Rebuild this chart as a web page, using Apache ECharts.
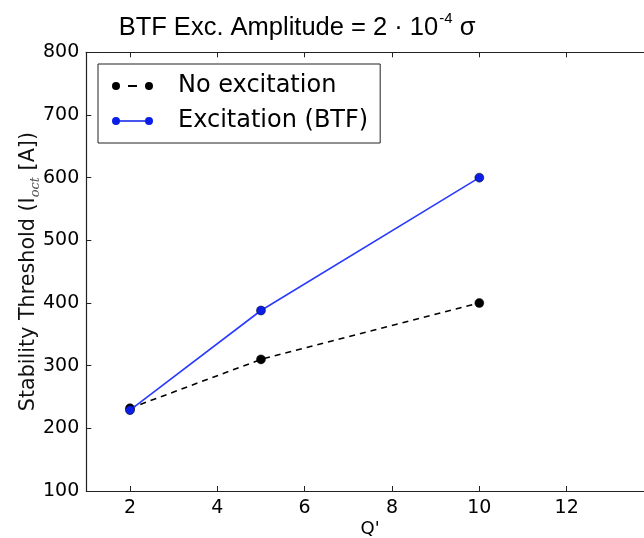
<!DOCTYPE html>
<html>
<head>
<meta charset="utf-8">
<script src="https://cdn.jsdelivr.net/npm/echarts@6/dist/echarts.min.js"></script>
<style>
  html, body { margin: 0; padding: 0; background: #fff; }
  #chart { width: 644px; height: 538px; }
</style>
</head>
<body>
<div id="chart"></div>
<script>
// Q' values and thresholds
const qPrime = [2, 5, 10]
const noExcitation = [232, 310, 400]
const excitationBTF = [229, 388, 600]
const seriesNames = ['No excitation', 'Excitation (BTF)']

const font = 'DejaVu Sans'
const frameColor = '#222'

// legend icons: marker - line - marker, like matplotlib
const dashedIcon = 'path://M0,4A4,4 0 1,1 8,4A4,4 0 1,1 0,4Z M33,4A4,4 0 1,1 41,4A4,4 0 1,1 33,4Z M16,3L25,3L25,5L16,5Z'
const solidIcon = 'path://M0,4A4,4 0 1,1 8,4A4,4 0 1,1 0,4Z M33,4A4,4 0 1,1 41,4A4,4 0 1,1 33,4Z M4,3.2L37,3.2L37,4.8L4,4.8Z'

const chart = echarts.init(document.getElementById('chart'))

const xAxisBase = {
  type: 'value',
  min: 1,
  max: 14,
  minInterval: 2,
  maxInterval: 2,
  axisLine: { lineStyle: { color: frameColor, width: 1.2 } },
  axisTick: { inside: true, length: 5, lineStyle: { color: frameColor } },
  splitLine: { show: false }
}

const option = {
  animation: false,
  title: {
    text: '{t|BTF Exc. Amplitude = 2 · 10}{s|-4}{t| σ}',
    left: 292,
    textAlign: 'center',
    top: 5,
    textStyle: {
      fontWeight: 'normal',
      rich: {
        t: { fontFamily: 'Liberation Sans', fontWeight: 'normal', fontSize: 25.5, color: '#000', lineHeight: 31, verticalAlign: 'bottom' },
        s: { fontFamily: 'Liberation Sans', fontWeight: 'normal', fontSize: 15, color: '#000', lineHeight: 31, verticalAlign: 'top', padding: [1, 0, 0, 1] }
      }
    }
  },
  legend: {
    orient: 'vertical',
    left: 98,
    top: 64,
    padding: [9, 12, 9, 14],
    itemGap: 9,
    itemWidth: 41,
    itemHeight: 8,
    borderColor: frameColor,
    borderWidth: 1,
    borderRadius: 0,
    backgroundColor: '#fff',
    itemStyle: { borderWidth: 0 },
    textStyle: { fontFamily: font, fontSize: 24, color: '#000', lineHeight: 26, padding: [0, 0, 0, 20] },
    data: [
      { name: seriesNames[0], icon: dashedIcon },
      { name: seriesNames[1], icon: solidIcon }
    ]
  },
  grid: { left: 86.3, top: 52.3, width: 567.7, height: 438.7, outerBoundsMode: 'none' },
  xAxis: [
    Object.assign({}, xAxisBase, {
      position: 'bottom',
      name: "Q'",
      nameLocation: 'middle',
      nameGap: 29,
      nameMoveOverlap: false,
      nameTextStyle: { fontFamily: font, fontSize: 18, color: '#000' },
      axisLabel: { fontFamily: font, fontSize: 19, color: '#000', margin: 8, showMinLabel: false, showMaxLabel: false }
    }),
    Object.assign({}, xAxisBase, {
      position: 'top',
      axisLabel: { show: false }
    })
  ],
  yAxis: {
    type: 'value',
    min: 100,
    max: 800,
    interval: 100,
    name: '{a|Stability Threshold (I}{s|oct}{a| [A])}',
    nameLocation: 'middle',
    nameRotate: 90,
    nameGap: 47,
    nameMoveOverlap: false,
    nameTextStyle: {
      rich: {
        a: { fontFamily: font, fontSize: 20.7, color: '#111', lineHeight: 24, verticalAlign: 'bottom' },
        s: { fontFamily: 'DejaVu Serif', fontStyle: 'italic', fontSize: 13, color: '#555', lineHeight: 24, verticalAlign: 'bottom', padding: [0, 0, -3, 0] }
      }
    },
    axisLine: { show: true, lineStyle: { color: frameColor, width: 1.2 } },
    axisTick: { inside: true, length: 5, lineStyle: { color: frameColor } },
    axisLabel: { fontFamily: font, fontSize: 19, color: '#000', margin: 7 },
    splitLine: { show: false }
  },
  series: [
    {
      name: seriesNames[0],
      type: 'line',
      data: qPrime.map((q, i) => [q, noExcitation[i]]),
      symbol: 'circle',
      symbolSize: 9,
      lineStyle: { color: '#000', width: 1.6, type: [6, 5] },
      itemStyle: { color: '#000', borderColor: '#000', borderWidth: 0.5 },
      z: 2
    },
    {
      name: seriesNames[1],
      type: 'line',
      data: qPrime.map((q, i) => [q, excitationBTF[i]]),
      symbol: 'circle',
      symbolSize: 9,
      lineStyle: { color: '#2a3bff', width: 1.6 },
      itemStyle: { color: '#0a1ee8', borderColor: '#000', borderWidth: 0.5 },
      z: 3
    }
  ]
}

chart.setOption(option)
</script>
</body>
</html>
